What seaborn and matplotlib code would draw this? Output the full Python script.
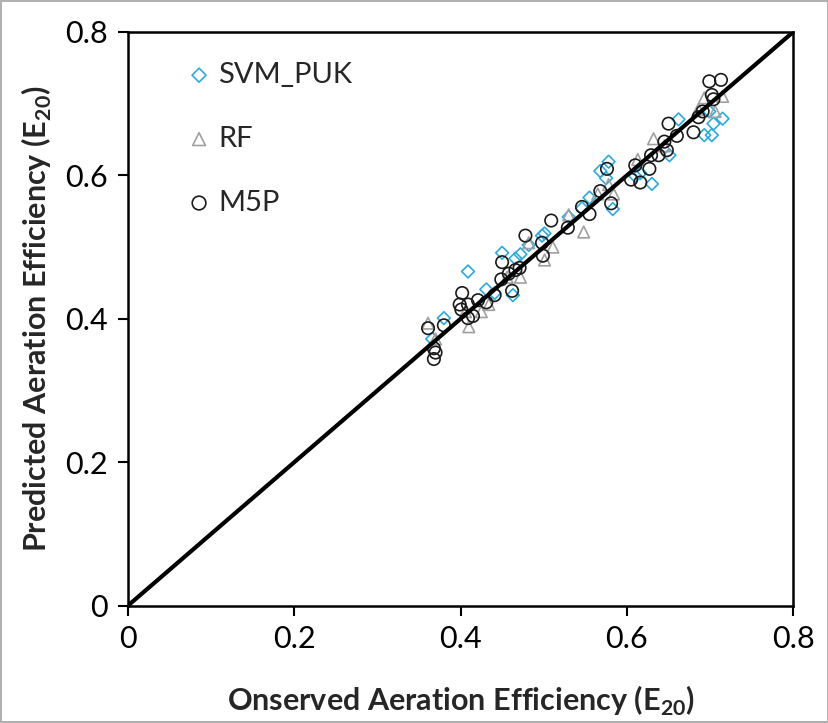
import pandas as pd
import seaborn as sns
import matplotlib.pyplot as plt

svm_obs = [0.366, 0.380, 0.409, 0.431, 0.450, 0.441, 0.463, 0.466, 0.472, 0.482,
           0.498, 0.501, 0.530, 0.546, 0.555, 0.568, 0.578, 0.575, 0.583, 0.610,
           0.616, 0.630, 0.651, 0.662, 0.693, 0.699, 0.702, 0.704, 0.715]
svm_pred = [0.372, 0.401, 0.466, 0.441, 0.492, 0.436, 0.433, 0.484, 0.490, 0.503,
            0.516, 0.519, 0.542, 0.554, 0.569, 0.606, 0.619, 0.596, 0.553, 0.599,
            0.603, 0.588, 0.628, 0.678, 0.656, 0.689, 0.656, 0.672, 0.679]

rf_obs = [0.361, 0.370, 0.406, 0.410, 0.425, 0.434, 0.456, 0.472, 0.482, 0.501,
          0.511, 0.530, 0.548, 0.565, 0.578, 0.584, 0.613, 0.632, 0.645, 0.686,
          0.693, 0.706, 0.715]
rf_pred = [0.394, 0.372, 0.410, 0.389, 0.410, 0.420, 0.458, 0.458, 0.506, 0.482,
           0.500, 0.545, 0.521, 0.574, 0.587, 0.574, 0.622, 0.651, 0.641, 0.692,
           0.708, 0.689, 0.710]

m5p_obs = [0.361, 0.368, 0.370, 0.368, 0.380, 0.399, 0.402, 0.401, 0.409, 0.409,
           0.415, 0.421, 0.431, 0.441, 0.449, 0.450, 0.458, 0.462, 0.466, 0.471,
           0.478, 0.498, 0.499, 0.509, 0.529, 0.546, 0.555, 0.568, 0.576, 0.581,
           0.605, 0.610, 0.616, 0.627, 0.629, 0.638, 0.645, 0.648, 0.650, 0.660,
           0.680, 0.686, 0.691, 0.699, 0.702, 0.704, 0.713]
m5p_pred = [0.387, 0.359, 0.353, 0.344, 0.391, 0.420, 0.436, 0.413, 0.420, 0.401,
            0.404, 0.426, 0.423, 0.433, 0.455, 0.479, 0.463, 0.439, 0.468, 0.471,
            0.516, 0.506, 0.488, 0.537, 0.527, 0.556, 0.546, 0.578, 0.609, 0.561,
            0.594, 0.614, 0.590, 0.609, 0.628, 0.628, 0.647, 0.635, 0.672, 0.655,
            0.660, 0.681, 0.689, 0.731, 0.712, 0.706, 0.733]

ticks = [0, 0.2, 0.4, 0.6, 0.8]
tick_labels = ['0', '0.2', '0.4', '0.6', '0.8']

sns.set_style('ticks')
plt.rcParams['font.family'] = ['Lato', 'DejaVu Sans']
plt.rcParams['mathtext.fontset'] = 'custom'
plt.rcParams['mathtext.rm'] = 'Lato'
plt.rcParams['mathtext.bf'] = 'Lato:bold'

fig = plt.figure(figsize=(8.29, 7.23), dpi=100)
fig.patch.set_edgecolor('#b0b0b0')
fig.patch.set_linewidth(1.5)
ax = fig.add_axes([0.154, 0.162, 0.803, 0.794])

# 1:1 line
sns.lineplot(x=[0, 0.8], y=[0, 0.8], color='black', linewidth=3, ax=ax)

series = [
    ('SVM_PUK', svm_obs, svm_pred, 'D', '#29abe2', 42),
    ('RF', rf_obs, rf_pred, '^', '#a0a0a0', 70),
    ('M5P', m5p_obs, m5p_pred, 'o', '#1a1a1a', 80),
]
for name, xs, ys, mk, col, sz in series:
    df = pd.DataFrame({'obs': xs, 'pred': ys})
    sns.scatterplot(data=df, x='obs', y='pred', marker=mk, s=sz, color=col,
                    facecolors='none', edgecolor=col, linewidth=1.2,
                    label=name, ax=ax)

ax.set_xlim(0, 0.8)
ax.set_ylim(0, 0.8)
ax.set_xticks(ticks)
ax.set_xticklabels(tick_labels)
ax.set_yticks(ticks)
ax.set_yticklabels(tick_labels)
ax.tick_params(direction='out', length=7, width=1.5, labelsize=22, pad=7, colors='black')
for sp in ax.spines.values():
    sp.set_linewidth(1.8)
    sp.set_color('black')

ax.set_xlabel('Onserved Aeration Efficiency (E$_\\mathbf{20}$)', fontsize=22,
              fontweight='bold', labelpad=22)
ax.set_ylabel('Predicted Aeration Efficiency (E$_\\mathbf{20}$)', fontsize=22,
              fontweight='bold', labelpad=8)

ax.legend(loc='upper left', bbox_to_anchor=(0.07, 0.968), frameon=False,
          fontsize=21, labelspacing=1.3, handletextpad=0.2, handlelength=0.9,
          borderaxespad=0, markerscale=1.1)

fig.savefig('out.png', dpi=100, edgecolor=fig.get_edgecolor())
